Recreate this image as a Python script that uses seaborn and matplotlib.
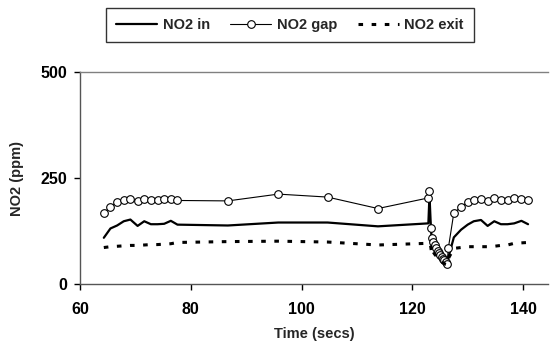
import matplotlib
matplotlib.use("Agg")
import matplotlib.pyplot as plt
import seaborn as sns
import pandas as pd

sns.set_theme(style="white")
plt.rcParams['font.family'] = ['Liberation Sans', 'DejaVu Sans']

time = [64.3, 65.5, 66.7, 67.9, 69.1, 70.4, 71.6, 72.8, 74.0, 75.2, 76.4, 77.6,
        86.7, 95.8, 104.7, 113.8, 122.9, 123.1,
        123.3, 123.55, 123.8, 124.05, 124.3, 124.55, 124.8, 125.05, 125.3, 125.55,
        125.8, 126.05, 126.3,
        126.5, 127.5, 128.8, 130.0, 131.1, 132.4, 133.6, 134.8, 136.0, 137.2,
        138.4, 139.7, 140.9]

no2_in = [109, 131, 138, 148, 152, 137, 148, 141, 141, 142, 149, 140,
          138, 145, 145, 136, 143, 210,
          150, 92, 85, 80, 75, 70, 66, 62, 58, 55,
          52, 48, 46,
          62, 110, 128, 140, 148, 151, 137, 148, 141, 141,
          143, 149, 141]

no2_gap = [167, 182, 193, 197, 200, 195, 201, 197, 197, 200, 200, 197,
           196, 212, 205, 178, 203, 219,
           131, 109, 100, 92, 85, 79, 74, 69, 64, 60,
           56, 52, 48,
           84, 168, 181, 193, 197, 200, 196, 203, 197, 197,
           203, 200, 197]

no2_exit = [86, 88, 89, 90, 91, 91, 92, 93, 93, 94, 95, 98,
            100, 101, 99, 92, 96, 96,
            90, 68, 75, 70, 66, 62, 58, 55, 52, 50,
            48, 46, 45,
            60, 84, 86, 88, 88, 88, 88, 89, 91, 92,
            96, 97, 98]

df = pd.DataFrame({"time": time, "in": no2_in, "gap": no2_gap, "exit": no2_exit})

fig = plt.figure(figsize=(5.5, 3.48), dpi=100)
ax = fig.add_axes([80/550, 1-284/348, (548-80)/550, (284-72)/348])

sns.lineplot(data=df, x="time", y="in", ax=ax, color="black", lw=1.6,
             estimator=None, sort=False, label="NO2 in")
sns.lineplot(data=df, x="time", y="gap", ax=ax, color="black", lw=0.8,
             marker="o", markersize=5.5, markerfacecolor="white",
             markeredgecolor="black", markeredgewidth=0.8,
             estimator=None, sort=False, label="NO2 gap")
sns.lineplot(data=df, x="time", y="exit", ax=ax, color="black", lw=2.2,
             dashes=(1.5, 2.8), estimator=None, sort=False, label="NO2 exit")

ax.set_xlim(60, 144.5)
ax.set_ylim(0, 500)
ax.set_xticks([60, 80, 100, 120, 140])
ax.set_yticks([0, 250, 500])
ax.tick_params(axis='both', which='both', direction='out', length=4, width=1,
               colors='black', labelsize=11.5, bottom=True, left=True)
ax.tick_params(axis='x', pad=9)
ax.tick_params(axis='y', pad=5)
for lab in ax.get_xticklabels() + ax.get_yticklabels():
    lab.set_fontweight('bold')
ax.set_xlabel("Time (secs)", fontsize=10.5, fontweight='bold', labelpad=7)
ax.set_ylabel("NO2 (ppm)", fontsize=10.5, fontweight='bold', labelpad=12)

for s in ['left', 'bottom']:
    ax.spines[s].set_color('#555555')
    ax.spines[s].set_linewidth(1.0)
ax.spines['right'].set_visible(False)
ax.spines['top'].set_color('#808080')
ax.spines['top'].set_linewidth(1.0)
ax.grid(False)

ax.get_legend().remove()
handles, labels = ax.get_legend_handles_labels()
leg = fig.legend(handles, labels, loc='center', bbox_to_anchor=(290/550, 1-25/348),
                 ncol=3, frameon=True, fancybox=False, shadow=False,
                 prop={'weight': 'bold', 'size': 10.5}, handlelength=2.8,
                 columnspacing=1.4, handletextpad=0.4, borderpad=0.7)
leg.get_frame().set_edgecolor('black')
leg.get_frame().set_linewidth(1.0)

fig.savefig("out.png", dpi=100)
